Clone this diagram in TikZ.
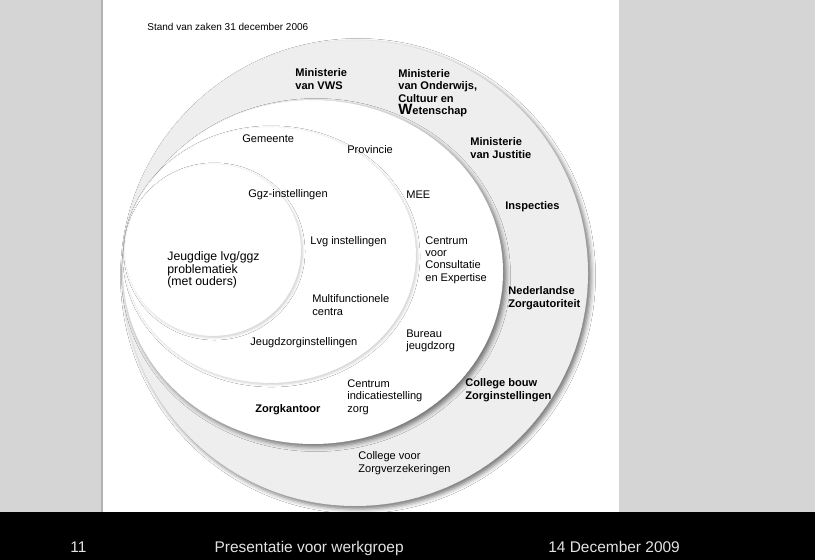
\documentclass[tikz,border=0pt]{standalone}
\usepackage{fontspec}
\setmainfont{Liberation Sans}
\usetikzlibrary{backgrounds}
\usetikzlibrary{positioning}
\usetikzlibrary{shadows.blur}

\definecolor{stripgray}{HTML}{D5D5D5}
\definecolor{ringgray}{HTML}{EEEEEE}
\definecolor{footgray}{HTML}{E2E2E2}

\begin{document}
\begin{tikzpicture}[
    x=0.02cm, y=-0.02cm,
    show background rectangle,
    tight background=0,
    background rectangle/.style={fill=stripgray},
    font=\fontsize{6.3}{7.1}\selectfont,
    every node/.style={inner sep=0pt, align=left, anchor=west},
    heavy/.style={font=\fontsize{6.3}{7.1}\selectfont\bfseries},
    foot/.style={text=footgray, anchor=base west, font=\fontsize{8.8}{10}\selectfont},
    disc/.style={fill=white, blur shadow={shadow xshift=1.7pt, shadow yshift=-1.7pt,
        shadow blur radius=2.6pt, shadow opacity=55}},
    rim/.style={draw=gray!35, densely dotted, line width=0.3pt},
    subdisc/.style={fill=white, blur shadow={shadow xshift=0.8pt, shadow yshift=-0.8pt,
        shadow blur radius=1.5pt, shadow opacity=20}},
%     node distance=0.10cm and 2cm,
 ]
    \useasboundingbox (0,0) rectangle (815,560);
    % page and footer bar
    \fill[white] (103,0) rectangle (619,512);
    \draw[gray!60, line width=0.8pt] (102,0) -- (102,512);
    \fill[black] (0,512) rectangle (815,560);

    % rings, all touching on the left
    \path[disc, fill=ringgray] (355,273) circle (233);
    \draw[rim] (355,273) circle (233);
    \path[disc] (313,272) ellipse (190 and 172);
    \draw[rim] (313,272) ellipse (190 and 172);
    \path[subdisc] (270,255) ellipse (146 and 128);
    \draw[rim, draw=gray!25] (270,255) ellipse (146 and 128);
    \path[subdisc] (213,250) ellipse (88 and 86);
    \draw[rim, draw=gray!20] (213,250) ellipse (88 and 86);

    \node[font=\fontsize{5.7}{6.5}\selectfont] (T0) at (147,27) {Stand van zaken 31 december 2006};

    % outer ring
    \node[heavy] (O0) at (295,79) {Ministerie\\van VWS};
    \node[heavy] (O1) at (398,93) {Ministerie\\van Onderwijs,\\Cultuur en\\{\fontsize{8.5}{7.1}\selectfont W}etenschap};
    \node[heavy] (O2) at (470,148) {Ministerie\\van Justitie};
    \node[heavy] (O3) at (505,207) {Inspecties};
    \node[heavy] (O4) at (508,298) {Nederlandse\\Zorgautoriteit};
    \node[heavy] (O5) at (465,390) {College bouw\\Zorginstellingen};
    \node (O6) at (358,463) {College voor\\Zorgverzekeringen};

    % middle ring
    \node (M0) at (242,139) {Gemeente};
    \node (M1) at (347,150) {Provincie};
    \node (M2) at (248,195) {Ggz-instellingen};
    \node (M3) at (406,195) {MEE};
    \node (M4) at (425,260) {Centrum\\voor\\Consultatie\\en Expertise};
    \node (M5) at (406,341) {Bureau\\jeugdzorg};
    \node (M6) at (347,397) {Centrum\\indicatiestelling\\zorg};
    \node[heavy] (M7) at (255,410) {Zorgkantoor};

    % inner ring and core
    \node (I0) at (310,242) {Lvg instellingen};
    \node (I1) at (312,305) {Multifunctionele\\centra};
    \node (I2) at (250,343) {Jeugdzorginstellingen};
    \node[font=\fontsize{7}{7.2}\selectfont] (C0) at (167,270) {Jeugdige lvg/ggz\\problematiek\\(met ouders)};

    % footer
    \node[foot] (F0) at (70,552) {11};
    \node[foot, base right=2.55cm of F0] (F1) {Presentatie voor werkgroep};
    \node[foot] (F2) at (548,552) {14 December 2009};
\end{tikzpicture}
\end{document}
